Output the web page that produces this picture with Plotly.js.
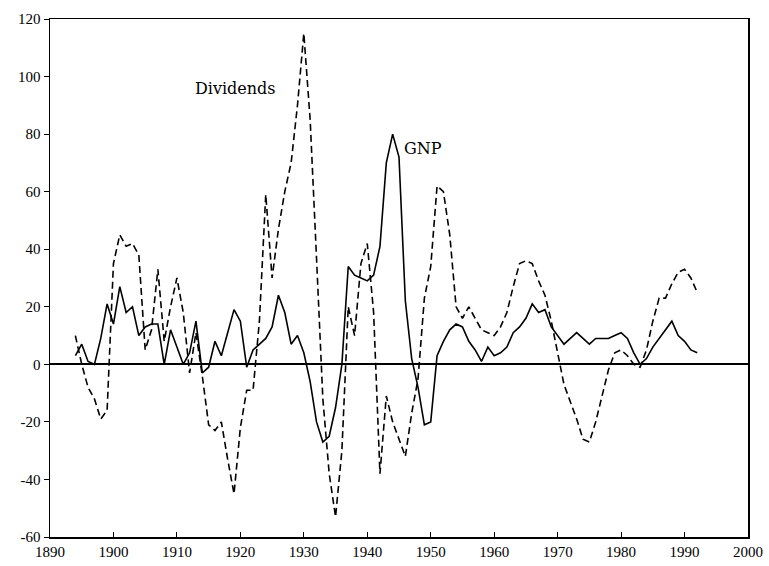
<!DOCTYPE html>
<html>
<head>
<meta charset="utf-8">
<script src="https://cdn.plot.ly/plotly-3.0.1.min.js"></script>
<style>
  html, body { margin: 0; padding: 0; background: #fff; }
  #chart { width: 769px; height: 566px; }
</style>
</head>
<body>
<div id="chart"></div>
<script>
const years = [];
for (let y = 1894; y <= 1992; y++) years.push(y);

const gnp = [
  3, 7, 1, 0, 9, 21,                    // 1894-1899
  14, 27, 18, 20, 10, 13, 14, 14, 0, 12, // 1900-1909
  6, 0, 4, 15, -3, -1, 8, 3, 11, 19,     // 1910-1919
  15, -1, 5, 7, 9, 13, 24, 18, 7, 10,    // 1920-1929
  4, -6, -20, -27, -25, -15, 0, 34, 31, 30, // 1930-1939
  29, 31, 41, 70, 80, 72, 22, 2, -8, -21,  // 1940-1949
  -20, 3, 8, 12, 14, 13, 8, 5, 1, 6,     // 1950-1959
  3, 4, 6, 11, 13, 16, 21, 18, 19, 13,   // 1960-1969
  10, 7, 9, 11, 9, 7, 9, 9, 9, 10,       // 1970-1979
  11, 9, 4, 0, 2, 6, 9, 12, 15, 10,      // 1980-1989
  8, 5, 4                                // 1990-1992
];

const dividends = [
  10, 0, -8, -12, -19, -16,                  // 1894-1899
  35, 45, 41, 42, 38, 5, 12, 33, 8, 20,      // 1900-1909
  30, 18, -3, 11, -4, -21, -23, -20, -33, -45, // 1910-1919
  -22, -9, -9, 15, 59, 30, 47, 60, 70, 90,   // 1920-1929
  115, 85, 37, -12, -38, -53, -30, 20, 10, 35, // 1930-1939
  42, 18, -38, -11, -20, -26, -32, -17, -5, 23, // 1940-1949
  34, 62, 60, 45, 20, 16, 20, 16, 12, 11,    // 1950-1959
  10, 13, 18, 27, 35, 36, 35, 29, 24, 15,    // 1960-1969
  4, -7, -13, -19, -26, -27, -20, -11, -2, 4, // 1970-1979
  5, 3, 0, -1, 5, 15, 23, 23, 28, 32,        // 1980-1989
  33, 30, 25                                 // 1990-1992
];

const xTicks = [1890, 1900, 1910, 1920, 1930, 1940, 1950, 1960, 1970, 1980, 1990, 2000];
const yTicks = [-60, -40, -20, 0, 20, 40, 60, 80, 100, 120];

const labelNames = ["Dividends", "GNP"];
const labelX = [1919.3, 1948.8];
const labelY = [96, 75];

const font = "Liberation Serif, Times New Roman, serif";
const labelFont = "DejaVu Serif, Liberation Serif, serif";

const traces = [
  {
    x: years, y: dividends, type: "scatter", mode: "lines", name: "Dividends",
    line: { color: "#000", width: 1.6, dash: "7px,4px" }
  },
  {
    x: years, y: gnp, type: "scatter", mode: "lines", name: "GNP",
    line: { color: "#000", width: 1.6 }
  }
];

const layout = {
  width: 769, height: 566,
  margin: { l: 50, r: 21, t: 19, b: 29 },
  paper_bgcolor: "#fff", plot_bgcolor: "#fff",
  showlegend: false,
  font: { family: font, size: 15, color: "#000" },
  xaxis: {
    range: [1890, 2000], tickvals: xTicks, ticktext: xTicks.map(String),
    showgrid: false, zeroline: false,
    showline: true, linecolor: "#000", linewidth: 1.5, mirror: true,
    ticks: "inside", ticklen: 5, tickcolor: "#000", tickwidth: 1,
    tickfont: { family: font, size: 15, color: "#000" }
  },
  yaxis: {
    range: [-60, 120], tickvals: yTicks, ticktext: yTicks.map(String),
    showgrid: false, zeroline: true, zerolinecolor: "#000", zerolinewidth: 2,
    showline: true, linecolor: "#000", linewidth: 1.5, mirror: true,
    ticks: "outside", ticklen: 5, tickcolor: "#000", tickwidth: 1,
    tickfont: { family: font, size: 15, color: "#000" }
  },
  annotations: labelNames.map((t, i) => ({
    x: labelX[i], y: labelY[i], xref: "x", yref: "y", text: t,
    showarrow: false, font: { family: labelFont, size: 16, color: "#000" }
  }))
};

Plotly.newPlot("chart", traces, layout, { displayModeBar: false, staticPlot: true });
</script>
</body>
</html>
